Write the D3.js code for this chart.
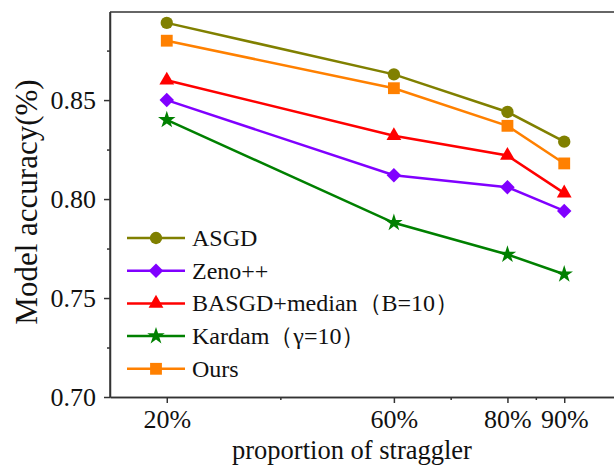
<!DOCTYPE html>
<html>
<head>
<meta charset="utf-8">
<script src="https://cdn.jsdelivr.net/npm/d3@7"></script>
<style>
  body { margin: 0; background: #fff; }
</style>
</head>
<body>
<div id="chart"></div>
<script>
// data
const proportions = [20, 60, 80, 90];
const tickLabels = ["20%", "60%", "80%", "90%"];
const seriesNames = ["ASGD", "Zeno++", "BASGD+median（B=10）", "Kardam（γ=10）", "Ours"];
const asgd = [0.889, 0.863, 0.844, 0.829];
const zeno = [0.850, 0.812, 0.806, 0.794];
const basgd = [0.860, 0.832, 0.822, 0.803];
const kardam = [0.840, 0.788, 0.772, 0.762];
const ours = [0.880, 0.856, 0.837, 0.818];
const yTicks = [0.70, 0.75, 0.80, 0.85];

const width = 614,
      height = 470,
      margin = ({ top: 12, right: -7, bottom: 73, left: 110 });

const serif = "'Liberation Serif', 'DejaVu Serif', serif";
const colors = ["#808000", "#8000ff", "#ff0000", "#008000", "#ff8000"];
// diamond = square turned 45 degrees
const symbols = [d3.symbolCircle, d3.symbolSquare, d3.symbolTriangle, d3.symbolStar, d3.symbolSquare];
const rotations = [0, 45, 0, 0, 0];
const sizes = [120, 105, 95, 95, 140];
const allValues = [asgd, zeno, basgd, kardam, ours];

const series = seriesNames.map((name, i) => ({
    name: name,
    color: colors[i],
    symbol: symbols[i],
    rot: rotations[i],
    size: sizes[i],
    values: proportions.map((p, j) => ({ x: p, y: allValues[i][j] }))
}));

let svg = d3.select("#chart")
    .append("svg")
    .attr("width", width)
    .attr("height", height);

let x = d3.scaleLinear()
    .domain([10, 100])
    .range([margin.left, width - margin.right]);

let y = d3.scaleLinear()
    .domain([0.70, 0.8945])
    .range([height - margin.bottom, margin.top]);

// top frame line
svg.append("line")
    .attr("x1", margin.left).attr("x2", width)
    .attr("y1", margin.top).attr("y2", margin.top)
    .attr("stroke", "#333").attr("stroke-width", 1.5);

// x axis
let xAxis = svg.append("g")
    .attr("transform", `translate(0,${y(0.70)})`)
    .call(d3.axisBottom(x).tickValues(proportions).tickFormat((d, i) => tickLabels[i]).tickSize(6).tickSizeOuter(0));
xAxis.append("g")
    .call(d3.axisBottom(x).tickValues([40, 70, 85]).tickFormat("").tickSize(3).tickSizeOuter(0));
xAxis.selectAll("path, line").attr("stroke", "#333").attr("stroke-width", 1.5);
xAxis.selectAll("text")
    .style("font-family", serif)
    .style("font-size", "26px")
    .attr("fill", "#111")
    .attr("y", 31)
    .attr("dy", 0);

// y axis
let yAxis = svg.append("g")
    .attr("transform", `translate(${margin.left},0)`)
    .call(d3.axisLeft(y).tickValues(yTicks).tickFormat(d3.format(".2f")).tickSize(6).tickSizeOuter(0));
yAxis.append("g")
    .call(d3.axisLeft(y).tickValues([0.725, 0.775, 0.825, 0.875]).tickFormat("").tickSize(3).tickSizeOuter(0));
yAxis.select(".domain").attr("d", `M0,${y(0.70)}V${margin.top}`);
yAxis.selectAll("path, line").attr("stroke", "#333").attr("stroke-width", 1.5);
yAxis.selectAll("text")
    .style("font-family", serif)
    .style("font-size", "26px")
    .attr("fill", "#111")
    .attr("x", -14)
    .attr("dy", "0.34em");

// axis titles
svg.append("text")
    .attr("text-anchor", "middle")
    .attr("x", 352)
    .attr("y", 459)
    .style("font-family", serif)
    .style("font-size", "26.5px")
    .attr("fill", "#111")
    .text("proportion of straggler");

svg.append("text")
    .attr("text-anchor", "middle")
    .attr("transform", `translate(37,202) rotate(-90)`)
    .style("font-family", serif)
    .style("font-size", "31px")
    .attr("fill", "#111")
    .text("Model accuracy(%)");

// lines
let line = d3.line()
    .x(d => x(d.x))
    .y(d => y(d.y));

let g = svg.selectAll(".series")
    .data(series)
    .join("g")
    .attr("class", "series");

g.append("path")
    .attr("d", d => line(d.values))
    .attr("fill", "none")
    .attr("stroke", d => d.color)
    .attr("stroke-width", 2.5);

g.each(function(s) {
    d3.select(this).selectAll("path.mark")
        .data(s.values)
        .join("path")
        .attr("class", "mark")
        .attr("d", d3.symbol().type(s.symbol).size(s.size))
        .attr("transform", d => `translate(${x(d.x)},${y(d.y)}) rotate(${s.rot})`)
        .attr("fill", s.color);
});

// legend
let legend = svg.selectAll(".legend")
    .data(series)
    .join("g")
    .attr("class", "legend")
    .attr("transform", (d, i) => `translate(127,${238 + i * 32.7})`);

legend.append("line")
    .attr("x1", 0).attr("x2", 58)
    .attr("stroke", d => d.color)
    .attr("stroke-width", 2.5);

legend.append("path")
    .attr("d", d => d3.symbol().type(d.symbol).size(d.size)())
    .attr("transform", d => `translate(29,0) rotate(${d.rot})`)
    .attr("fill", d => d.color);

legend.append("text")
    .attr("x", 65)
    .attr("y", 8)
    .style("font-family", serif)
    .style("font-size", "24px")
    .attr("fill", "#111")
    .text(d => d.name);
</script>
</body>
</html>
